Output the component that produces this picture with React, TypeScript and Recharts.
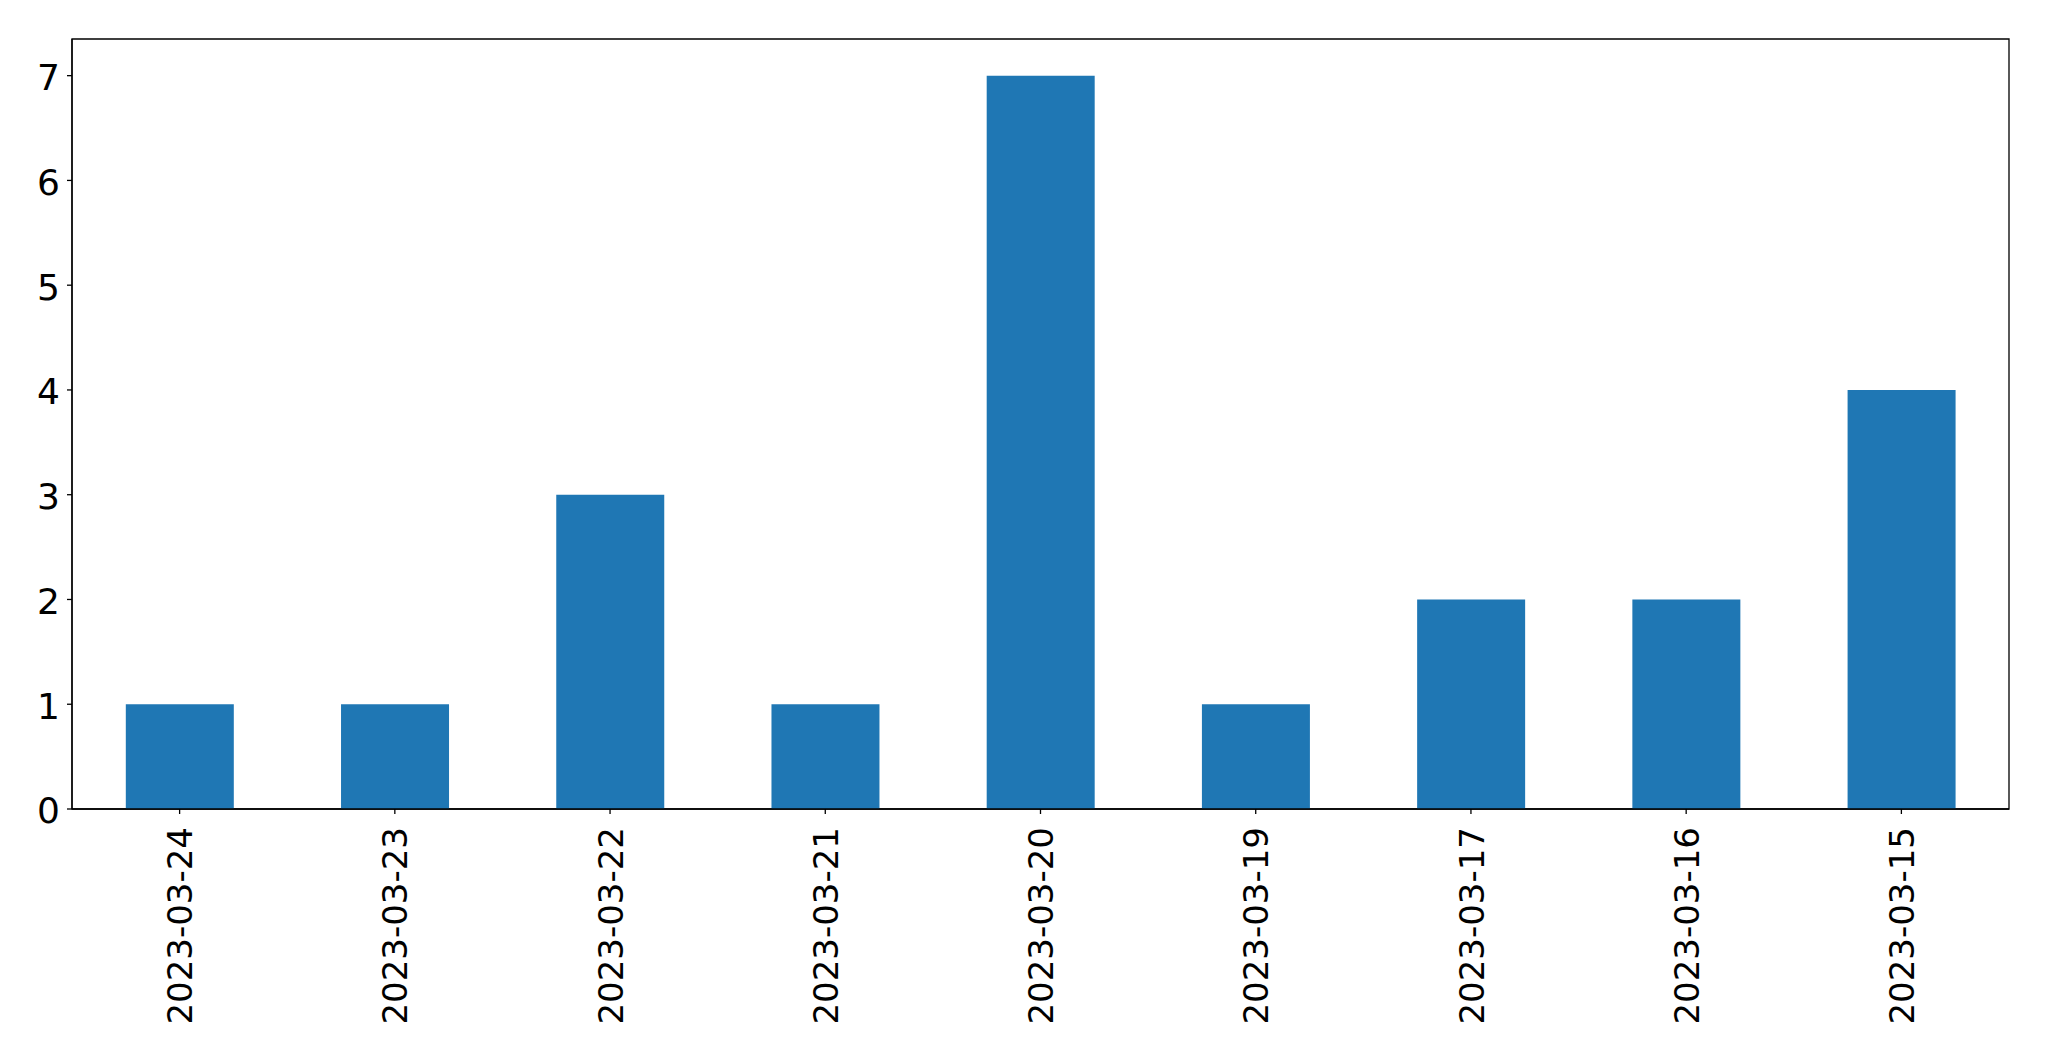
/**
 * Bar chart: count per day, matplotlib-style framed axes.
 */

import React from 'react';
import { BarChart, Bar, XAxis, YAxis, ReferenceArea } from 'recharts';

const dates = [
  '2023-03-24',
  '2023-03-23',
  '2023-03-22',
  '2023-03-21',
  '2023-03-20',
  '2023-03-19',
  '2023-03-17',
  '2023-03-16',
  '2023-03-15',
];
const counts = [1, 1, 3, 1, 7, 1, 2, 2, 4];
const yTicks = [0, 1, 2, 3, 4, 5, 6, 7];
const Y_MAX = 7.35;

const data = dates.map((d, i) => ({ date: d, count: counts[i] }));

const FONT = '"DejaVu Sans", sans-serif';
const AXIS = { stroke: '#000', strokeWidth: 1.3 };

interface TickProps {
  x?: number;
  y?: number;
  payload?: { value: string | number };
}

function RotatedTick({ x = 0, y = 0, payload }: TickProps) {
  return (
    <g transform={`translate(${x},${y})`}>
      <text
        transform="rotate(-90)"
        textAnchor="end"
        dy="0.37em"
        fontSize={34}
        fontFamily={FONT}
        fill="#000"
      >
        {payload?.value}
      </text>
    </g>
  );
}

function LeftTick({ x = 0, y = 0, payload }: TickProps) {
  return (
    <text x={x} y={y} dy="0.4em" textAnchor="end" fontSize={36} fontFamily={FONT} fill="#000">
      {payload?.value}
    </text>
  );
}

export default function App() {
  return (
    <div style={{ position: 'absolute', left: 0, top: 0, background: '#fff' }}>
      <BarChart
        width={2049}
        height={1061}
        data={data}
        margin={{ top: 39, right: 40, left: 0, bottom: 0 }}
        barCategoryGap="25%"
      >
        <XAxis
          dataKey="date"
          height={252}
          interval={0}
          tick={<RotatedTick />}
          tickSize={5}
          tickMargin={13}
          axisLine={AXIS}
          tickLine={AXIS}
        />
        <YAxis
          width={72}
          domain={[0, Y_MAX]}
          ticks={yTicks}
          interval={0}
          tickSize={5}
          tickMargin={7}
          tick={<LeftTick />}
          axisLine={AXIS}
          tickLine={AXIS}
        />
        <Bar dataKey="count" fill="#1f77b4" isAnimationActive={false} />
        <ReferenceArea y1={0} y2={Y_MAX} fill="none" fillOpacity={0} stroke="#000" strokeWidth={1.3} />
      </BarChart>
    </div>
  );
}
